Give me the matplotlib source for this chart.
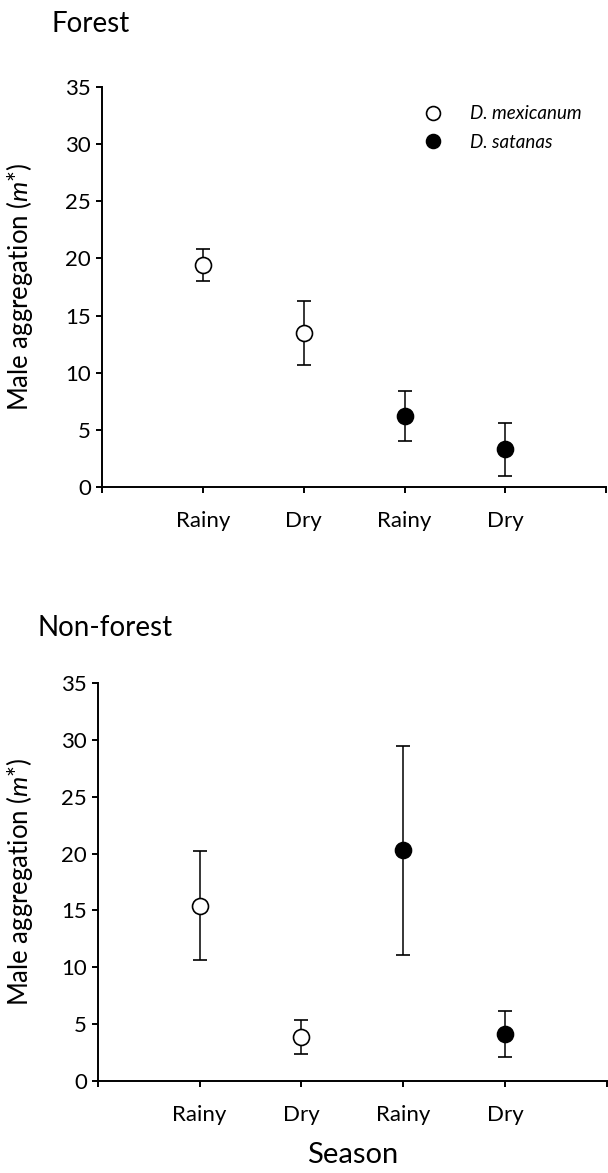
import matplotlib
matplotlib.use("Agg")
import matplotlib.pyplot as plt
from matplotlib.lines import Line2D

plt.rcParams['font.family'] = ['Lato', 'DejaVu Sans']
plt.rcParams['mathtext.fontset'] = 'custom'
plt.rcParams['mathtext.it'] = 'Lato:italic'
plt.rcParams['mathtext.rm'] = 'Lato'

# Data
seasons = ['Rainy', 'Dry', 'Rainy', 'Dry']
species = ['D. mexicanum', 'D. mexicanum', 'D. satanas', 'D. satanas']

forest_mean = [19.4, 13.45, 6.2, 3.3]
forest_low = [18.0, 10.65, 4.0, 1.0]
forest_high = [20.8, 16.3, 8.4, 5.6]

nonforest_mean = [15.35, 3.9, 20.3, 4.13]
nonforest_low = [10.6, 2.4, 11.1, 2.14]
nonforest_high = [20.2, 5.4, 29.45, 6.13]

panel_titles = ['Forest', 'Non-forest']

fig = plt.figure(figsize=(6.08, 11.73), dpi=100)
ax_top = fig.add_axes([0.168, 0.5848, 0.829, 0.341])
ax_bot = fig.add_axes([0.161, 0.0784, 0.837, 0.3393])


def draw_panel(ax, means, lows, highs):
    for i, (m, lo, hi, sp) in enumerate(zip(means, lows, highs, species)):
        face = 'white' if sp == 'D. mexicanum' else 'black'
        ax.errorbar(i + 1, m, yerr=[[m - lo], [hi - m]], fmt='o', color='black',
                    mfc=face, mec='black', mew=1.2, ms=11.5, ecolor='black',
                    elinewidth=1.1, capsize=5, capthick=1.1, zorder=3)
    ax.set_xlim(0, 5)
    ax.set_ylim(0, 35)
    ax.set_xticks([0, 1, 2, 3, 4, 5])
    ax.set_xticklabels([''] + seasons + [''])
    ax.set_yticks(range(0, 36, 5))
    ax.spines['top'].set_visible(False)
    ax.spines['right'].set_visible(False)
    ax.spines['left'].set_linewidth(1.4)
    ax.spines['bottom'].set_linewidth(1.4)
    ax.tick_params(axis='both', direction='out', length=4.5, width=1.4, labelsize=16)
    ax.tick_params(axis='x', pad=13)
    ax.set_ylabel(r'Male aggregation ($m$*)', fontsize=18.5)


draw_panel(ax_top, forest_mean, forest_low, forest_high)
draw_panel(ax_bot, nonforest_mean, nonforest_low, nonforest_high)

ax_top.yaxis.set_label_coords(-0.133, 0.5)
ax_bot.yaxis.set_label_coords(-0.124, 0.5)

fig.text(52 / 608, 1 - 32 / 1173, panel_titles[0], fontsize=20)
fig.text(38 / 608, 1 - 636 / 1173, panel_titles[1], fontsize=20)

ax_bot.set_xlabel('Season', fontsize=21, labelpad=12)

handles = [
    Line2D([], [], ls='none', marker='o', mfc='white', mec='black', mew=1.2, ms=10),
    Line2D([], [], ls='none', marker='o', mfc='black', mec='black', mew=1.2, ms=10),
]
ax_top.legend(handles, ['D. mexicanum', 'D. satanas'], loc='upper left',
              bbox_to_anchor=(0.585, 0.997), frameon=False, handletextpad=1.0,
              labelspacing=0.62, prop={'style': 'italic', 'size': 13.5})

fig.savefig('out.png', dpi=100)
